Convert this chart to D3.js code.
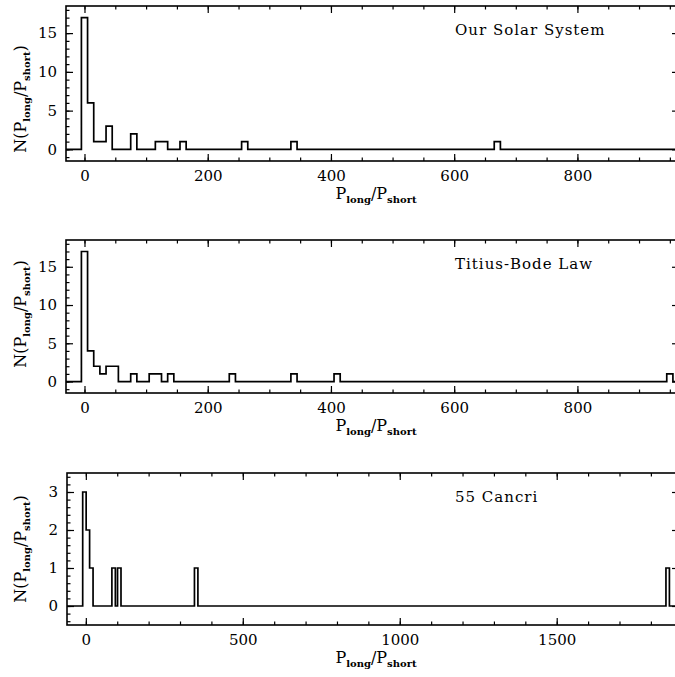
<!DOCTYPE html>
<html>
<head>
<meta charset="utf-8">
<script src="https://cdn.jsdelivr.net/npm/d3@7"></script>
<style>
  html, body { margin: 0; background: #fff; overflow: hidden; }
  svg { display: block; }
  svg text { font-family: "DejaVu Serif", "Liberation Serif", serif; fill: #000; }
</style>
</head>
<body>
<div id="chart"></div>
<script>
// histogram bins: left edge of each non-empty bin and its count
let solarLeft   = [-5, 5, 15, 25, 35, 75, 115, 125, 155, 255, 335, 665];
let solarCount  = [17, 6, 1, 1, 3, 2, 1, 1, 1, 1, 1, 1];

let bodeLeft    = [-5, 5, 15, 25, 35, 45, 75, 105, 115, 135, 235, 335, 405, 945];
let bodeCount   = [17, 4, 2, 1, 2, 2, 1, 1, 1, 1, 1, 1, 1, 1];

let cancriLeft  = [-10, 1, 12, 83, 101, 346, 1848];
let cancriCount = [3, 2, 1, 1, 1, 1, 1];

let titles = ["Our Solar System", "Titius-Bode Law", "55 Cancri"];

let xTicksWide  = [0, 200, 400, 600, 800];
let xTicksCanc  = [0, 500, 1000, 1500];
let yTicksN     = [0, 5, 10, 15];
let yTicksCanc  = [0, 1, 2, 3];

let W = 675, H = 677;
let svg = d3.select("#chart").append("svg")
	.attr("width", W)
	.attr("height", H);

let panels = [
	{ left: solarLeft, count: solarCount, bw: 10, title: titles[0],
	  x0: 66, x1: 676, y0: 6, y1: 161, xdom: [-30, 960], ydom: [-1.5, 18.5],
	  xMajor: xTicksWide, xMinor: d3.range(0, 960, 50),
	  yMajor: yTicksN, yMinor: d3.range(-1, 19, 1), ylabY: 99 },
	{ left: bodeLeft, count: bodeCount, bw: 10, title: titles[1],
	  x0: 66, x1: 676, y0: 240, y1: 393, xdom: [-30, 960], ydom: [-1.5, 18.5],
	  xMajor: xTicksWide, xMinor: d3.range(0, 960, 50),
	  yMajor: yTicksN, yMinor: d3.range(-1, 19, 1), ylabY: 314 },
	{ left: cancriLeft, count: cancriCount, bw: 11, title: titles[2],
	  x0: 67, x1: 676, y0: 473, y1: 625, xdom: [-60, 1880], ydom: [-0.5, 3.5],
	  xMajor: xTicksCanc, xMinor: d3.range(0, 1880, 100),
	  yMajor: yTicksCanc, yMinor: d3.range(-2, 18, 1).map(d => d / 5), ylabY: 549 }
];

panels.forEach(drawPanel);

function drawPanel(p) {
	let x = d3.scaleLinear().domain(p.xdom).range([p.x0, p.x1]);
	let y = d3.scaleLinear().domain(p.ydom).range([p.y1, p.y0]);
	let g = svg.append("g");
	let xEdge = p.x1 + 3;   // right frame line, just off the page

	// ticks, all pointing inward, on the four sides
	let sides = [
		{ axis: d3.axisBottom(x), t: `translate(0,${p.y1})`, maj: p.xMajor, min: p.xMinor, lab: true },
		{ axis: d3.axisTop(x), t: `translate(0,${p.y0})`, maj: p.xMajor, min: p.xMinor, lab: false },
		{ axis: d3.axisLeft(y), t: `translate(${p.x0},0)`, maj: p.yMajor, min: p.yMinor, lab: true },
		{ axis: d3.axisRight(y), t: `translate(${xEdge},0)`, maj: p.yMajor, min: p.yMinor, lab: false }
	];
	sides.forEach(s => {
		let gm = g.append("g").attr("transform", s.t)
			.call(s.axis.tickValues(s.min).tickSize(-3.5).tickSizeOuter(0).tickFormat(""));
		gm.selectAll(".domain").remove();
		let gM = g.append("g").attr("transform", s.t)
			.call(s.axis.tickValues(s.maj).tickSize(-7).tickSizeOuter(0).tickPadding(9)
				.tickFormat(s.lab ? d3.format("d") : ""));
		gM.selectAll(".domain").remove();
		gM.selectAll("text").style("font-size", "15px").attr("fill", "#000");
		g.selectAll(".tick line").attr("stroke", "#000").attr("stroke-width", 1.2);
	});

	// frame
	g.append("rect")
		.attr("x", p.x0).attr("y", p.y0)
		.attr("width", xEdge - p.x0).attr("height", p.y1 - p.y0)
		.attr("fill", "none").attr("stroke", "#000").attr("stroke-width", 1.6);

	// step outline of the histogram
	let pts = [[p.xdom[0], 0]];
	p.left.forEach((lo, i) => {
		if (i > 0 && Math.abs(p.left[i - 1] + p.bw - lo) > 0.01) pts.push([p.left[i - 1] + p.bw, 0]);
		pts.push([lo, p.count[i]]);
	});
	let last = p.left[p.left.length - 1] + p.bw;
	pts.push([Math.min(last, p.xdom[1]), 0]);
	pts.push([p.xdom[1], 0]);

	g.append("path")
		.datum(pts)
		.attr("d", d3.line().x(d => x(d[0])).y(d => y(d[1])).curve(d3.curveStepAfter))
		.attr("fill", "none")
		.attr("stroke", "#000")
		.attr("stroke-width", 1.7);

	g.append("text")
		.attr("x", 455).attr("y", p.y0 + 29)
		.style("font-size", "15px")
		.style("letter-spacing", "1px")
		.text(p.title);

	// x label  P_long / P_short
	let xl = g.append("text")
		.attr("x", 376).attr("y", p.y1 + 38)
		.attr("text-anchor", "middle")
		.style("font-size", "16px");
	xl.append("tspan").text("P");
	xl.append("tspan").attr("dy", 4).style("font-size", "10px").style("font-weight", "bold").text("long");
	xl.append("tspan").attr("dy", -4).text("/P");
	xl.append("tspan").attr("dy", 4).style("font-size", "10px").style("font-weight", "bold").text("short");

	// y label  N(P_long / P_short)
	let yl = g.append("text")
		.attr("transform", `translate(26,${p.ylabY}) rotate(-90)`)
		.attr("text-anchor", "middle")
		.style("font-size", "16px");
	yl.append("tspan").text("N(P");
	yl.append("tspan").attr("dy", 4).style("font-size", "10px").style("font-weight", "bold").text("long");
	yl.append("tspan").attr("dy", -4).text("/P");
	yl.append("tspan").attr("dy", 4).style("font-size", "10px").style("font-weight", "bold").text("short");
	yl.append("tspan").attr("dy", -4).text(")");
}
</script>
</body>
</html>
